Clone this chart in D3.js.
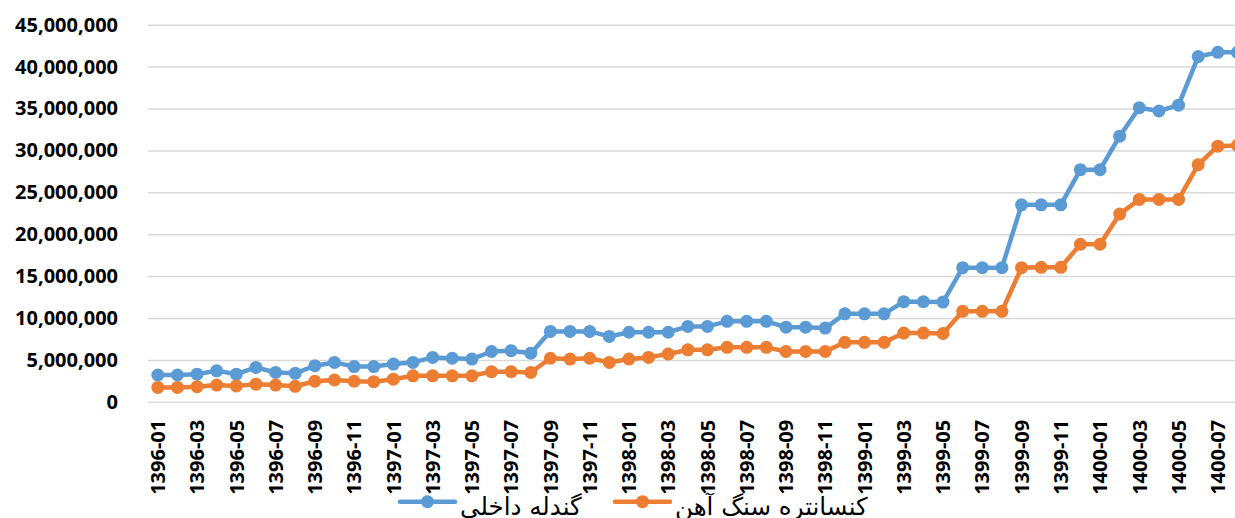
<!DOCTYPE html>
<html>
<head>
<meta charset="utf-8">
<script src="https://cdn.jsdelivr.net/npm/d3@7"></script>
<style>
  body { margin: 0; background: #fff; }
  svg { display: block; overflow: hidden; }
  .axis text { font-family: 'Open Sans', sans-serif; font-weight: bold; font-size: 20px; fill: #000; }
  .legend-label { font-family: 'DejaVu Sans', sans-serif; font-size: 24.5px; fill: #000; }
</style>
</head>
<body>
<svg id="chart" width="1235" height="518"></svg>
<script>
// months, 1396-01 .. 1400-08
const months = [
  '1396-01', '1396-02', '1396-03', '1396-04', '1396-05', '1396-06', '1396-07', '1396-08', '1396-09', '1396-10', '1396-11', '1396-12',
  '1397-01', '1397-02', '1397-03', '1397-04', '1397-05', '1397-06', '1397-07', '1397-08', '1397-09', '1397-10', '1397-11', '1397-12',
  '1398-01', '1398-02', '1398-03', '1398-04', '1398-05', '1398-06', '1398-07', '1398-08', '1398-09', '1398-10', '1398-11', '1398-12',
  '1399-01', '1399-02', '1399-03', '1399-04', '1399-05', '1399-06', '1399-07', '1399-08', '1399-09', '1399-10', '1399-11', '1399-12',
  '1400-01', '1400-02', '1400-03', '1400-04', '1400-05', '1400-06', '1400-07', '1400-08'
];

// گندله داخلی
const pellet = [
  3200000, 3200000, 3300000, 3700000, 3300000, 4100000, 3500000, 3400000, 4300000, 4700000, 4200000, 4200000,
  4500000, 4700000, 5300000, 5200000, 5100000, 6000000, 6100000, 5800000, 8400000, 8400000, 8400000, 7800000,
  8300000, 8300000, 8300000, 9000000, 9000000, 9600000, 9600000, 9600000, 8900000, 8900000, 8800000, 10500000,
  10500000, 10500000, 11950000, 11950000, 11900000, 16000000, 16000000, 16000000, 23500000, 23500000, 23500000, 27700000,
  27700000, 31700000, 35100000, 34700000, 35400000, 41200000, 41700000, 41700000
];

// کنسانتره سنگ آهن
const concentrate = [
  1720000, 1720000, 1800000, 2000000, 1900000, 2100000, 2000000, 1850000, 2450000, 2600000, 2450000, 2400000,
  2700000, 3100000, 3100000, 3100000, 3100000, 3600000, 3600000, 3500000, 5200000, 5100000, 5200000, 4700000,
  5100000, 5300000, 5700000, 6200000, 6200000, 6500000, 6500000, 6500000, 6000000, 6000000, 6000000, 7100000,
  7100000, 7100000, 8200000, 8200000, 8150000, 10800000, 10800000, 10800000, 16000000, 16050000, 16050000, 18800000,
  18800000, 22400000, 24150000, 24150000, 24150000, 28300000, 30500000, 30600000
];

const seriesNames = ['گندله داخلی', 'کنسانتره سنگ آهن'];
const seriesColors = ['#5b9bd5', '#ed7d31'];
const yTicks = [0, 5000000, 10000000, 15000000, 20000000, 25000000, 30000000, 35000000, 40000000, 45000000];

const margin = { top: 24.7, left: 148 };
const bandW = 19.63;
const plotRight = margin.left + months.length * bandW;
const plotBottom = 401.8;

const svg = d3.select('#chart');

const xScale = d3.scaleBand()
  .domain(months)
  .range([margin.left, plotRight]);

const yScale = d3.scaleLinear()
  .domain([0, 45000000])
  .range([plotBottom, margin.top]);

// gridlines + y labels
const yAxis = svg.append('g')
  .attr('class', 'axis y-axis')
  .attr('transform', `translate(${margin.left}, 0)`)
  .call(d3.axisLeft(yScale)
    .tickValues(yTicks)
    .tickSize(-(plotRight - margin.left))
    .tickPadding(30)
    .tickFormat(d3.format(',')));
yAxis.select('.domain').remove();
yAxis.selectAll('line')
  .attr('stroke', '#d9d9d9')
  .attr('stroke-width', 1.5);

// x labels
const xAxis = svg.append('g')
  .attr('class', 'axis x-axis')
  .attr('transform', `translate(0, ${plotBottom})`)
  .call(d3.axisBottom(xScale)
    .tickSize(0)
    .tickValues(months.filter((d, i) => i % 2 === 0)));
xAxis.select('.domain').remove();
xAxis.selectAll('text')
  .attr('y', 0)
  .attr('x', -18)
  .attr('dy', '0.36em')
  .attr('transform', 'rotate(-90)')
  .style('text-anchor', 'end');

const cx = (d, i) => xScale(months[i]) + xScale.bandwidth() / 2;
const line = d3.line()
  .x(cx)
  .y((d) => yScale(d));

[pellet, concentrate].forEach((values, k) => {
  const g = svg.append('g').attr('class', 'series');
  g.append('path')
    .datum(values)
    .attr('fill', 'none')
    .attr('stroke', seriesColors[k])
    .attr('stroke-width', 4.5)
    .attr('stroke-linejoin', 'round')
    .attr('d', line);
  g.selectAll('circle')
    .data(values)
    .enter()
    .append('circle')
    .attr('cx', cx)
    .attr('cy', (d) => yScale(d))
    .attr('r', 6.5)
    .attr('fill', seriesColors[k]);
});

// legend
const legendItems = [
  { x: 400, textX: 460 },
  { x: 615, textX: 675 }
];
const legend = svg.append('g').attr('class', 'legend');
legendItems.forEach((item, k) => {
  legend.append('line')
    .attr('x1', item.x)
    .attr('x2', item.x + 55)
    .attr('y1', 501.7)
    .attr('y2', 501.7)
    .attr('stroke', seriesColors[k])
    .attr('stroke-width', 4.5)
    .attr('stroke-linecap', 'round');
  legend.append('circle')
    .attr('cx', item.x + 27.5)
    .attr('cy', 501.7)
    .attr('r', 6.5)
    .attr('fill', seriesColors[k]);
  legend.append('text')
    .attr('class', 'legend-label')
    .attr('x', item.textX)
    .attr('y', 515)
    .attr('direction', 'rtl')
    .style('text-anchor', 'end')
    .text(seriesNames[k]);
});
</script>
</body>
</html>
